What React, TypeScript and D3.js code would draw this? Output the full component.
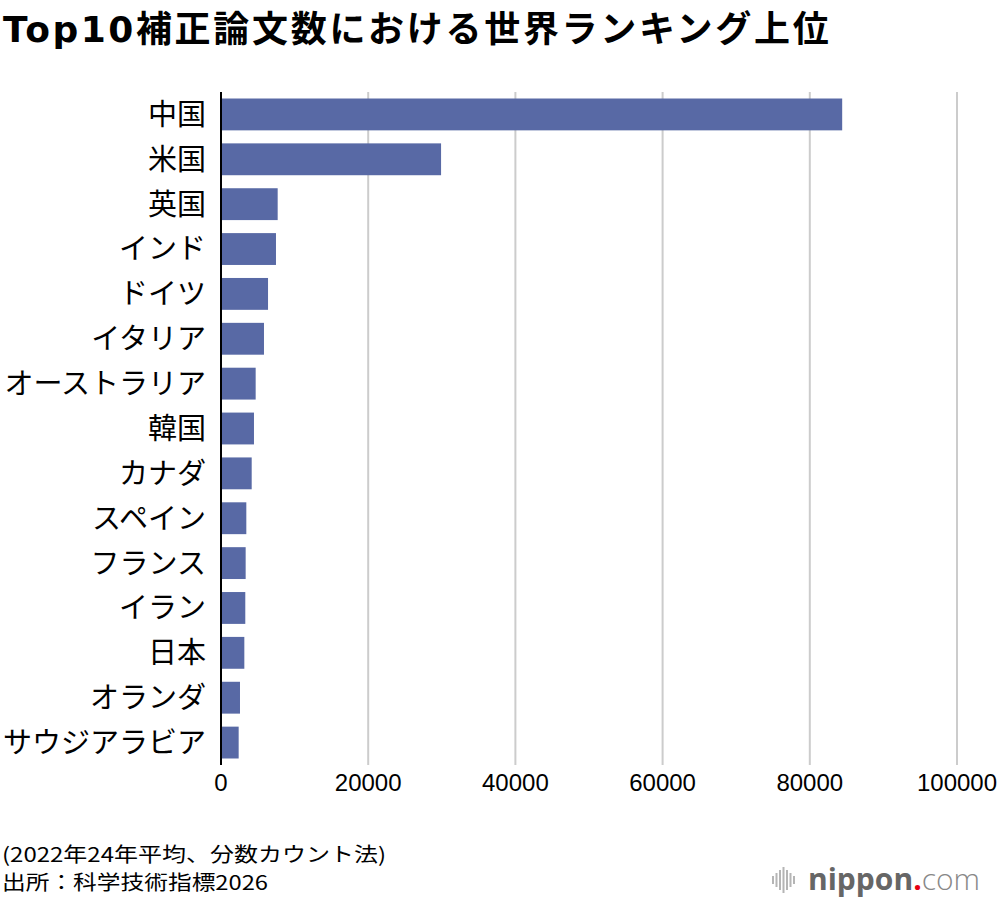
import React, { useEffect, useRef } from 'react';
import * as d3 from 'd3';

// Data
const countries = [
  '中国', '米国', '英国', 'インド', 'ドイツ', 'イタリア', 'オーストラリア', '韓国',
  'カナダ', 'スペイン', 'フランス', 'イラン', '日本', 'オランダ', 'サウジアラビア',
];
const papers = [
  84400, 29900, 7700, 7470, 6390, 5840, 4710, 4480,
  4170, 3440, 3350, 3300, 3170, 2580, 2400,
];
const xTicks = [0, 20000, 40000, 60000, 80000, 100000];

const titleLatin = 'Top10';
const titleJp = '補正論文数における世界ランキング上位';
const noteLines = ['(2022年24年平均、分数カウント法)', '出所：科学技術指標2026'];
const noteWidths = [384, 266];

const JP_FONT = '"Noto Sans CJK JP", "Noto Sans", sans-serif';

const App = () => {
  const svgRef = useRef<SVGSVGElement>(null);

  useEffect(() => {
    if (!svgRef.current) return;
    const svg = d3.select(svgRef.current);
    svg.selectAll('*').remove();

    const width = 1000;
    const height = 904;
    const left = 221;
    const right = 957;
    const top = 92;
    const bottom = 765;

    const x = d3.scaleLinear().domain([0, 100000]).range([left, right]);
    const y = d3.scaleBand<string>()
      .domain(countries)
      .range([top, bottom])
      .paddingInner(0.29)
      .paddingOuter(0.145);

    svg.attr('width', width).attr('height', height);
    svg.append('rect').attr('width', width).attr('height', height).attr('fill', '#fff');

    // Title
    const title = svg.append('text')
      .attr('x', 3)
      .attr('y', 42)
      .attr('font-weight', 700)
      .attr('fill', '#000');
    title.append('tspan')
      .attr('font-family', '"DejaVu Sans", sans-serif')
      .attr('font-size', 36)
      .attr('letter-spacing', 2.5)
      .text(titleLatin);
    title.append('tspan')
      .attr('font-family', JP_FONT)
      .attr('font-size', 36)
      .attr('letter-spacing', 2.7)
      .text(titleJp);

    // Gridlines
    svg.append('g')
      .selectAll('line')
      .data(xTicks.filter(t => t > 0))
      .enter()
      .append('line')
      .attr('x1', d => x(d))
      .attr('x2', d => x(d))
      .attr('y1', top)
      .attr('y2', bottom)
      .attr('stroke', '#cccccc')
      .attr('stroke-width', 2);

    // Bars
    svg.append('g')
      .selectAll('rect')
      .data(countries)
      .enter()
      .append('rect')
      .attr('x', x(0))
      .attr('y', d => y(d)!)
      .attr('width', (_, i) => x(papers[i]) - x(0))
      .attr('height', y.bandwidth())
      .attr('fill', '#5869a5');

    // Zero axis
    svg.append('line')
      .attr('x1', x(0))
      .attr('x2', x(0))
      .attr('y1', top)
      .attr('y2', bottom)
      .attr('stroke', '#000')
      .attr('stroke-width', 2);

    // Category labels
    svg.append('g')
      .selectAll('text')
      .data(countries)
      .enter()
      .append('text')
      .attr('x', 206)
      .attr('y', d => y(d)! + y.bandwidth() / 2)
      .attr('dy', '0.36em')
      .attr('text-anchor', 'end')
      .attr('font-family', JP_FONT)
      .attr('font-size', 29)
      .attr('fill', '#000')
      .text(d => d);

    // Tick labels
    svg.append('g')
      .selectAll('text')
      .data(xTicks)
      .enter()
      .append('text')
      .attr('x', d => x(d))
      .attr('y', 791)
      .attr('text-anchor', 'middle')
      .attr('font-family', '"Liberation Sans", Arial, sans-serif')
      .attr('font-size', 24)
      .attr('fill', '#000')
      .text(d => String(d));

    // Notes
    svg.append('g')
      .selectAll('text')
      .data(noteLines)
      .enter()
      .append('text')
      .attr('x', 2)
      .attr('y', (_, i) => 862 + i * 28)
      .attr('font-family', JP_FONT)
      .attr('font-size', 20)
      .attr('textLength', (_, i) => noteWidths[i])
      .attr('lengthAdjust', 'spacingAndGlyphs')
      .attr('fill', '#000')
      .text(d => d);

    // Logo
    const logo = svg.append('g');
    const waveHeights = [8, 14, 20, 26, 20, 14, 8];
    logo.selectAll('rect')
      .data(waveHeights)
      .enter()
      .append('rect')
      .attr('x', (_, i) => 772 + i * 3.5)
      .attr('y', d => 880 - d / 2)
      .attr('width', 2)
      .attr('height', d => d)
      .attr('fill', '#b5b5b5');
    const logoText = logo.append('text')
      .attr('x', 808)
      .attr('y', 890)
      .attr('font-family', '"Open Sans", sans-serif')
      .attr('font-size', 30);
    logoText.append('tspan').attr('font-weight', 700).attr('fill', '#666').text('nippon');
    logoText.append('tspan').attr('font-weight', 700).attr('fill', '#e60012').text('.');
    logoText.append('tspan').attr('font-weight', 300).attr('fill', '#888').text('com');
  }, []);

  return (
    <div style={{ position: 'absolute', top: 0, left: 0 }}>
      <svg ref={svgRef} style={{ display: 'block' }} />
    </div>
  );
};

export default App;
